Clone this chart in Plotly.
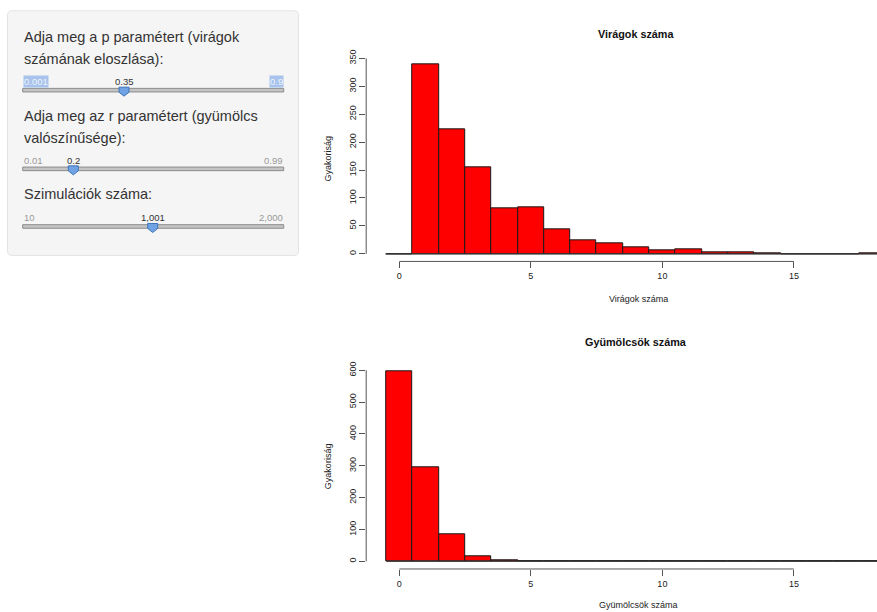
import plotly.graph_objects as go
import math

# ---------------- data ----------------
bin_centers = list(range(0, 19))
flower_counts = [0, 340, 223, 155, 82, 83, 43, 24, 19, 11, 6, 8, 2, 3, 1, 0, 0, 0, 1]
fruit_counts = [598, 296, 85, 17, 3, 1, 1, 0, 0, 0, 0, 0, 0, 0, 0, 0, 0, 0, 0]
x_ticks = [0, 5, 10, 15]
flower_y_ticks = [0, 50, 100, 150, 200, 250, 300, 350]
fruit_y_ticks = [0, 100, 200, 300, 400, 500, 600]

title_top = "Virágok száma"
title_bottom = "Gyümölcsök száma"
xlab_top = "Virágok száma"
xlab_bottom = "Gyümölcsök száma"
ylab = "Gyakoriság"

slider_labels = [["Adja meg a p paramétert (virágok", "számának eloszlása):"],
                 ["Adja meg az r paramétert (gyümölcs", "valószínűsége):"],
                 ["Szimulációk száma:"]]
slider_min = [0.001, 0.01, 10]
slider_max = [0.9, 0.99, 2000]
slider_val = [0.35, 0.2, 1001]
slider_min_txt = ["0.001", "0.01", "10"]
slider_max_txt = ["0.9", "0.99", "2,000"]
slider_val_txt = ["0.35", "0.2", "1,001"]

# ---------------- layout helpers ----------------
W, H = 877, 612
FONT = "Liberation Sans, Arial, Helvetica, sans-serif"


def X(px):
    return px / W


def Y(py):
    # small vertical correction observed in the rendered page
    p = (py - 6.2) / 0.99
    return 1 - p / H


fig = go.Figure()

breaks_lo = bin_centers[0] - 0.5
breaks_hi = bin_centers[-1] + 0.5

for counts, xa, ya in [(flower_counts, "x", "y"), (fruit_counts, "x2", "y2")]:
    fig.add_trace(go.Scatter(x=[breaks_lo, breaks_hi], y=[0, 0], mode="lines",
                             line=dict(color="#333333", width=1),
                             xaxis=xa, yaxis=ya, showlegend=False, hoverinfo="skip"))
    fig.add_trace(go.Bar(x=bin_centers, y=counts, width=1,
                         marker=dict(color="#FF0000", line=dict(color="#1a1a1a", width=1)),
                         xaxis=xa, yaxis=ya, showlegend=False))

x_range = [-1.26, 18.16]
xdom = [X(366.2), 1]

ax_common = dict(showgrid=False, zeroline=False, showline=False, ticks="outside",
                 ticklen=6, tickcolor="#555555", tickwidth=1,
                 tickfont=dict(family=FONT, size=9, color="#222222"))

fmax = max(flower_counts)
gmax = max(fruit_counts)

fig.update_layout(
    width=W, height=H, margin=dict(l=0, r=0, t=0, b=0),
    paper_bgcolor="white", plot_bgcolor="white", bargap=0,
    xaxis=dict(domain=xdom, range=x_range, anchor="y", tickvals=x_ticks, **ax_common),
    yaxis=dict(domain=[Y(261), Y(55.6)], range=[-0.04 * fmax, 1.04 * fmax], anchor="x",
               tickvals=flower_y_ticks, tickangle=-90, **ax_common),
    xaxis2=dict(domain=xdom, range=x_range, anchor="y2", tickvals=x_ticks, **ax_common),
    yaxis2=dict(domain=[Y(569), Y(363)], range=[-0.04 * gmax, 1.04 * gmax], anchor="x2",
                tickvals=fruit_y_ticks, tickangle=-90, **ax_common),
)

# R-style axis lines spanning only tick range
for xr, yr, yt in [("x", "y", flower_y_ticks), ("x2", "y2", fruit_y_ticks)]:
    fig.add_shape(type="line", xref=xr, yref=yr + " domain", x0=min(x_ticks), x1=max(x_ticks),
                  y0=0, y1=0, line=dict(color="#555555", width=1))
    fig.add_shape(type="line", xref=xr + " domain", yref=yr, x0=0, x1=0,
                  y0=min(yt), y1=max(yt), line=dict(color="#555555", width=1))


def ann(text, px, py, size, bold=False, angle=0, color="#111111", xanchor="center"):
    fig.add_annotation(text=("<b>%s</b>" % text) if bold else text, x=X(px), y=Y(py),
                       xref="paper", yref="paper", showarrow=False, textangle=angle,
                       xanchor=xanchor, yanchor="middle",
                       font=dict(family=FONT, size=size, color=color))


ann(title_top, 636, 33, 10.8, bold=True)
ann(xlab_top, 638, 299, 9, color="#222222")
ann(ylab, 328, 158, 9, angle=-90, color="#222222")
ann(title_bottom, 636, 342, 10.8, bold=True)
ann(xlab_bottom, 638, 605, 9, color="#222222")
ann(ylab, 328, 466, 9, angle=-90, color="#222222")


# ---------------- sidebar panel ----------------
def rrect_path(x0, y0, x1, y1, r):
    pts = []
    corners = [(x1 - r, y0 + r, -90, 0), (x1 - r, y1 - r, 0, 90),
               (x0 + r, y1 - r, 90, 180), (x0 + r, y0 + r, 180, 270)]
    for cx, cy, a0, a1 in corners:
        for k in range(5):
            a = math.radians(a0 + (a1 - a0) * k / 4)
            pts.append((cx + r * math.cos(a), cy + r * math.sin(a)))
    return "M " + " L ".join("%.5f,%.5f" % (X(px), Y(py)) for px, py in pts) + " Z"


fig.add_shape(type="path", xref="paper", yref="paper", path=rrect_path(7.5, 10, 298.5, 255, 4),
              fillcolor="#f5f5f5", line=dict(color="#e3e3e3", width=1), layer="below")

label_y0 = [36, 115, 193]
line_gap = 22
lab_y = [81, 159.5, 217]
track_y = [89.5, 168.3, 226]
tx0, tx1 = 22.7, 283.7

for i in range(3):
    for j, line in enumerate(slider_labels[i]):
        fig.add_annotation(text=line, x=X(22), y=Y(label_y0[i] + j * line_gap),
                           xref="paper", yref="paper", showarrow=False,
                           xanchor="left", yanchor="middle", align="left",
                           font=dict(family=FONT, size=14.5, color="#333333"))
    fig.add_shape(type="rect", xref="paper", yref="paper",
                  x0=X(tx0), x1=X(tx1), y0=Y(track_y[i] - 1.8), y1=Y(track_y[i] + 1.8),
                  fillcolor="#c4c4c4", line=dict(color="#8c8c8c", width=1))
    frac = (slider_val[i] - slider_min[i]) / (slider_max[i] - slider_min[i])
    hx = tx0 + frac * (tx1 - tx0)
    top = track_y[i] - 3
    pts = [(hx - 5, top), (hx + 5, top), (hx + 5, top + 5), (hx, top + 9), (hx - 5, top + 5)]
    fig.add_shape(type="path", xref="paper", yref="paper",
                  path="M " + " L ".join("%.5f,%.5f" % (X(a), Y(b)) for a, b in pts) + " Z",
                  fillcolor="#6fa3e3", line=dict(color="#3f75bb", width=1))
    hl = (i == 0)
    common = dict(xref="paper", yref="paper", showarrow=False, yanchor="middle", borderpad=0)
    fig.add_annotation(text=slider_min_txt[i], x=X(tx0), y=Y(lab_y[i]), xanchor="left",
                       bgcolor="#a8c3ec" if hl else None,
                       font=dict(family=FONT, size=9.5, color="#eef3fb" if hl else "#999999"), **common)
    fig.add_annotation(text=slider_max_txt[i], x=X(tx1), y=Y(lab_y[i]), xanchor="right",
                       bgcolor="#a8c3ec" if hl else None,
                       font=dict(family=FONT, size=9.5, color="#eef3fb" if hl else "#999999"), **common)
    fig.add_annotation(text=slider_val_txt[i], x=X(hx), y=Y(lab_y[i]), xanchor="center",
                       font=dict(family=FONT, size=9.5, color="#333333"), **common)

post = ("var gd=document.getElementById('{plot_id}');"
        "gd.style.position='fixed';gd.style.top='0px';gd.style.left='0px';"
        "document.body.style.margin='0px';document.body.style.padding='0px';"
        "document.body.style.overflow='hidden';document.documentElement.style.overflow='hidden';")

fig.write_html("out.html", config={"displayModeBar": False}, post_script=post)
